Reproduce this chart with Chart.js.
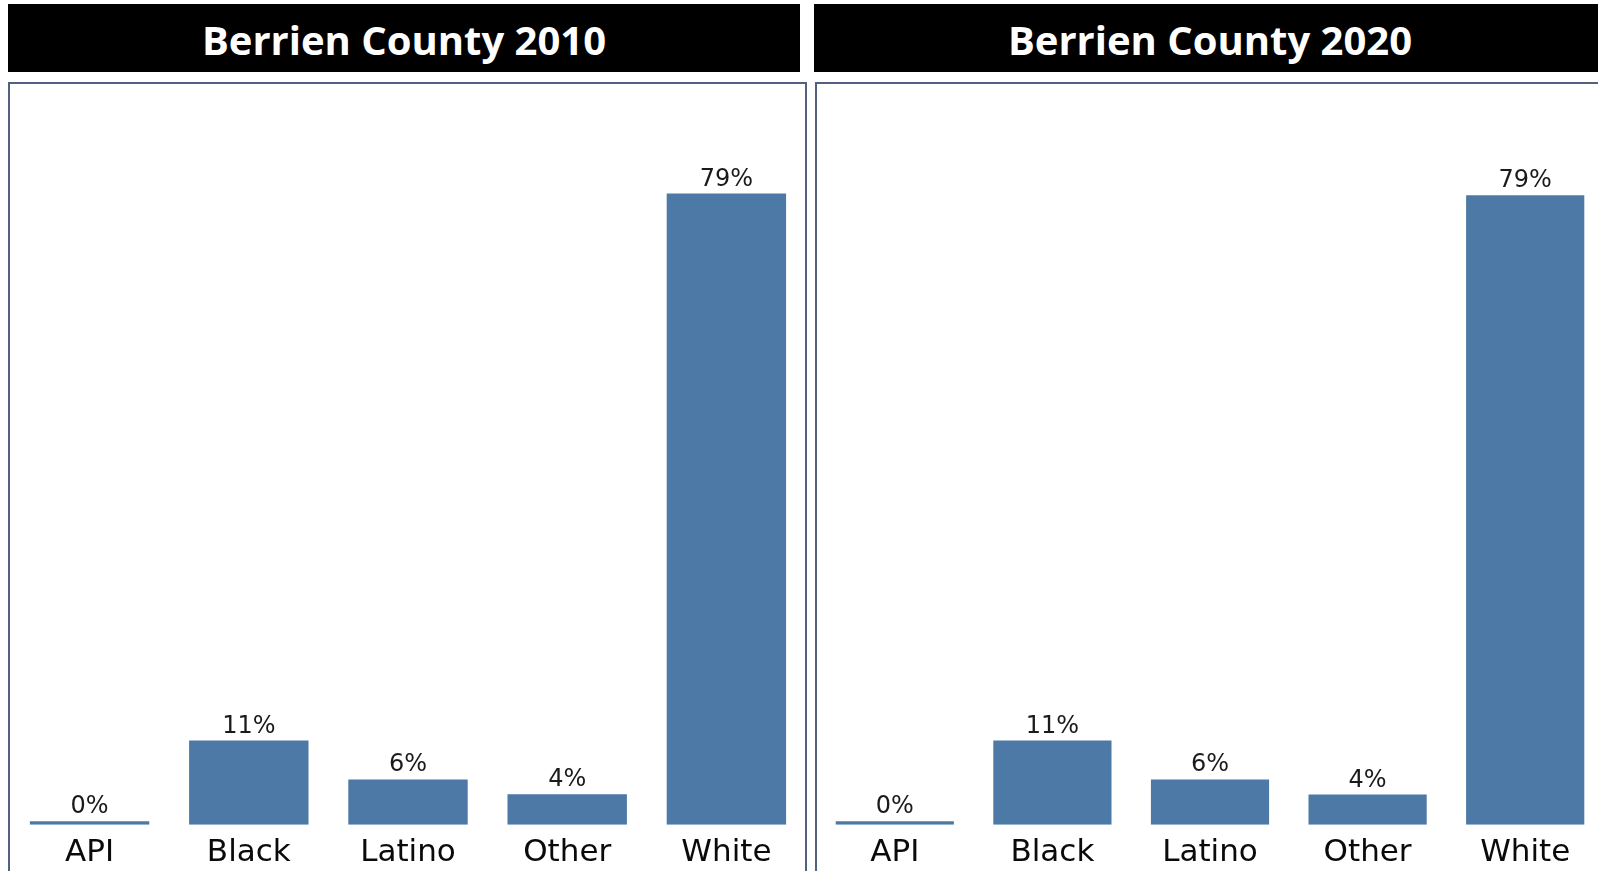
<!DOCTYPE html>
<html>
<head>
<meta charset="utf-8">
<script src="https://cdn.jsdelivr.net/npm/chart.js@4"></script>
<style>
  html, body { margin: 0; padding: 0; background: #fff; overflow: hidden; width: 1598px; height: 871px; }
  .hdr { position: absolute; top: 4px; height: 68px; width: 792px; background: #000; color: #fff;
         font-family: "Open Sans", sans-serif; font-weight: bold; font-size: 40px; text-align: center;
         line-height: 72px; white-space: nowrap; overflow: hidden; }
  .panel { position: absolute; top: 82px; height: 900px; border: 2px solid #51617f; box-sizing: border-box; }
  .cwrap { position: absolute; top: 84px; height: 798px; }
</style>
</head>
<body>
<div class="hdr" id="t1" style="left:8px;"></div>
<div class="hdr" id="t2" style="left:814px;"></div>
<div class="panel" style="left:8px; width:799px;"></div>
<div class="panel" style="left:815px; width:800px;"></div>
<div class="cwrap" style="left:10px; width:796px;"><canvas id="c1"></canvas></div>
<div class="cwrap" style="left:816px; width:788px;"><canvas id="c2"></canvas></div>
<script>
const titles = ["Berrien County 2010", "Berrien County 2020"];
const categories = ["API", "Black", "Latino", "Other", "White"];
const values2010 = [0.45, 10.6, 5.7, 3.85, 79.4];
const values2020 = [0.45, 10.6, 5.7, 3.8, 79.2];
const yMax = 90;

document.getElementById('t1').textContent = titles[0];
document.getElementById('t2').textContent = titles[1];

const barLabels = {
  id: 'barLabels',
  afterDatasetsDraw(chart) {
    const ctx = chart.ctx;
    const ds = chart.data.datasets[0];
    const meta = chart.getDatasetMeta(0);
    ctx.save();
    ctx.font = '24px "DejaVu Sans"';
    ctx.fillStyle = '#1a1a1a';
    ctx.textAlign = 'center';
    ctx.textBaseline = 'alphabetic';
    meta.data.forEach((el, i) => {
      ctx.fillText(Math.round(ds.data[i]) + '%', el.x, el.y - 8);
    });
    ctx.restore();
  }
};

function makeChart(id, values) {
  new Chart(document.getElementById(id), {
    type: 'bar',
    data: {
      labels: categories,
      datasets: [{
        data: values,
        backgroundColor: '#4d79a6',
        borderWidth: 0,
        categoryPercentage: 0.75,
        barPercentage: 1.0
      }]
    },
    options: {
      responsive: true,
      maintainAspectRatio: false,
      animation: false,
      layout: { padding: { top: 25.3, left: 0, right: 0, bottom: 0 } },
      plugins: { legend: { display: false }, tooltip: { enabled: false } },
      scales: {
        x: {
          grid: { display: false, drawTicks: false, tickLength: 0 },
          border: { display: false },
          ticks: { color: '#0a0a0a', font: { family: '"DejaVu Sans"', size: 31 }, padding: 10 }
        },
        y: { display: false, min: 0, max: yMax }
      }
    },
    plugins: [barLabels]
  });
}
makeChart('c1', values2010);
makeChart('c2', values2020);
</script>
</body>
</html>
